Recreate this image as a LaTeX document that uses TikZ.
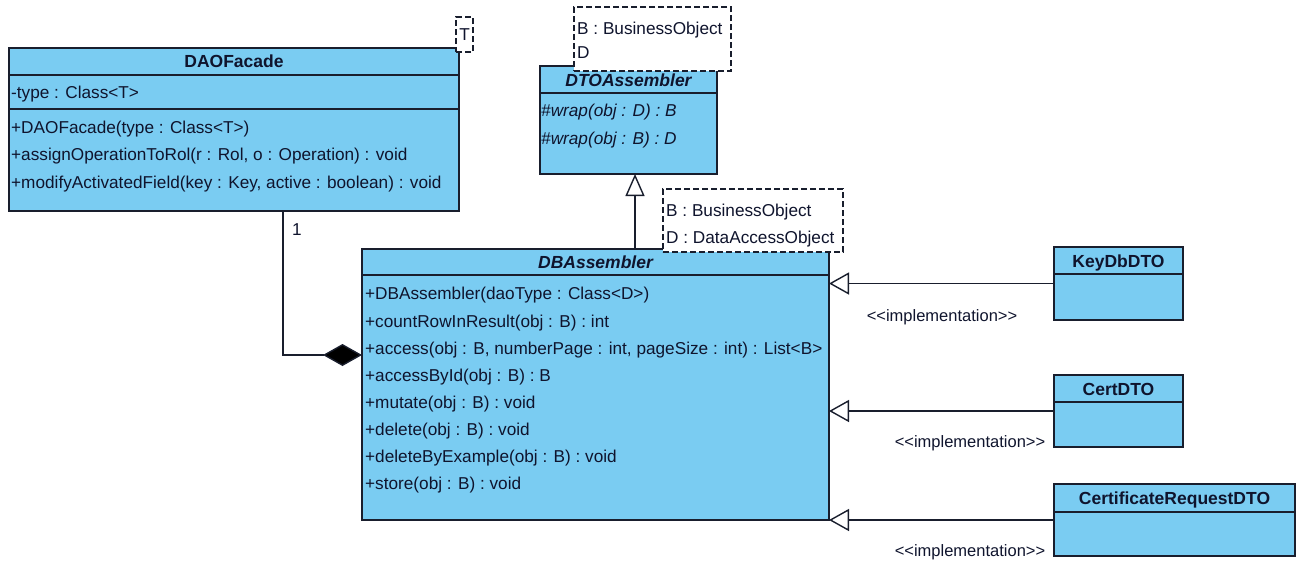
\documentclass[tikz,border=0pt]{standalone}
\usepackage{fontspec}
\setmainfont{Liberation Sans}[Ligatures=TeXOff]
\usetikzlibrary{arrows.meta}
\definecolor{clsfill}{RGB}{122,204,242}
\definecolor{clsline}{RGB}{25,30,45}
\definecolor{txt}{RGB}{15,20,45}
\tikzset{
  box/.style={draw=clsline, line width=1.6pt, fill=clsfill, anchor=north west, inner sep=0pt, outer sep=0pt},
  tmpl/.style={draw=clsline, dash pattern=on 6pt off 3pt, line width=1.2pt, fill=white, anchor=north west, inner sep=0pt, outer sep=0pt},
  sep/.style={draw=clsline, line width=1.6pt},
  lbl/.style={anchor=base west, inner sep=0pt, text=txt, font=\fontsize{17.2}{20}\selectfont},
  ilbl/.style={lbl, font=\fontsize{17.2}{20}\selectfont\itshape},
  ttl/.style={anchor=base, inner sep=0pt, text=txt, font=\fontsize{17.5}{20}\selectfont\bfseries},
  ittl/.style={ttl, font=\fontsize{17.5}{20}\selectfont\bfseries\itshape},
  stereo/.style={anchor=center, inner sep=0pt, text=txt, font=\fontsize{16.5}{20}\selectfont},
  conn/.style={draw=clsline, line width=1.4pt},
  realz/.style={conn, -{Triangle[open, length=20pt, width=22pt, line width=1.4pt]}},
  gener/.style={conn, -{Triangle[open, length=22pt, width=19pt, line width=1.4pt]}},
  compo/.style={conn, -{Diamond[length=39pt, width=22pt, fill=black]}},
}
\begin{document}
\begin{tikzpicture}[x=1pt, y=-1pt]
\useasboundingbox (0,0) rectangle (1299,566);

% ---------- DAOFacade ----------
\node[box, minimum width=450pt, minimum height=163pt] (dao) at (9,48) {};
\draw[sep] ([yshift=-27pt]dao.north west) -- ([yshift=-27pt]dao.north east);
\draw[sep] ([yshift=-61pt]dao.north west) -- ([yshift=-61pt]dao.north east);
\node[ttl] (daot) at (234,67.5) {DAOFacade};
\node[lbl] (dao1) at (11,98) {-type : Class<T>};
\node[lbl] (dao2) at (11,133) {+DAOFacade(type : Class<T>)};
\node[lbl] (dao3) at (11,160) {+assignOperationToRol(r : Rol, o : Operation) : void};
\node[lbl] (dao4) at (11,188) {+modifyActivatedField(key : Key, active : boolean) : void};
\node[tmpl, minimum width=17pt, minimum height=35pt] (daotp) at (456,17) {};
\node[lbl, anchor=base] (daotpt) at (464.5,40) {T};

% ---------- DTOAssembler ----------
\node[box, minimum width=177pt, minimum height=108pt] (dto) at (540,66) {};
\draw[sep] ([yshift=-27pt]dto.north west) -- ([yshift=-27pt]dto.north east);
\node[ittl] (dtot) at (628.5,86) {DTOAssembler};
\node[ilbl] (dto1) at (541,116) {\#wrap(obj : D) : B};
\node[ilbl] (dto2) at (541,144) {\#wrap(obj : B) : D};
\node[tmpl, minimum width=157pt, minimum height=64pt] (dtotp) at (574,7) {};
\node[lbl] (dtotp1) at (577,34) {B : BusinessObject};
\node[lbl] (dtotp2) at (577,58) {D};

% ---------- DBAssembler ----------
\node[box, minimum width=467pt, minimum height=271pt] (db) at (362,249) {};
\draw[sep] ([yshift=-26pt]db.north west) -- ([yshift=-26pt]db.north east);
\node[ittl] (dbt) at (595.5,268) {DBAssembler};
\node[lbl] (db1) at (365,299) {+DBAssembler(daoType : Class<D>)};
\node[lbl] (db2) at (365,327) {+countRowInResult(obj : B) : int};
\node[lbl] (db3) at (365,354) {+access(obj : B, numberPage : int, pageSize : int) : List<B>};
\node[lbl] (db4) at (365,381) {+accessById(obj : B) : B};
\node[lbl] (db5) at (365,408) {+mutate(obj : B) : void};
\node[lbl] (db6) at (365,435) {+delete(obj : B) : void};
\node[lbl] (db7) at (365,462) {+deleteByExample(obj : B) : void};
\node[lbl] (db8) at (365,489) {+store(obj : B) : void};
\node[tmpl, minimum width=180pt, minimum height=63pt] (dbtp) at (663,189) {};
\node[lbl] (dbtp1) at (666,216) {B : BusinessObject};
\node[lbl] (dbtp2) at (666,243) {D : DataAccessObject};

% ---------- DTO classes ----------
\node[box, minimum width=129pt, minimum height=73pt] (key) at (1054,247) {};
\draw[sep] ([yshift=-27pt]key.north west) -- ([yshift=-27pt]key.north east);
\node[ttl] (keyt) at (1118.5,267) {KeyDbDTO};

\node[box, minimum width=129pt, minimum height=72pt] (cert) at (1054,375) {};
\draw[sep] ([yshift=-27pt]cert.north west) -- ([yshift=-27pt]cert.north east);
\node[ttl] (certt) at (1118.5,395) {CertDTO};

\node[box, minimum width=241pt, minimum height=72pt] (creq) at (1054,484) {};
\draw[sep] ([yshift=-28pt]creq.north west) -- ([yshift=-28pt]creq.north east);
\node[ttl] (creqt) at (1174.5,504) {CertificateRequestDTO};

% ---------- connectors ----------
\draw[realz] (key.west) -- (key.west -| db.east);
\draw[realz] (cert.west) -- (cert.west -| db.east);
\draw[realz] (creq.west) -- (creq.west -| db.east);
\node[stereo] (s1) at (942,317) {<<implementation>>};
\node[stereo] (s2) at (970,443) {<<implementation>>};
\node[stereo] (s3) at (970,552) {<<implementation>>};

\coordinate (gfoot) at (635,249);
\draw[gener] (gfoot) -- (gfoot |- dto.south);

\coordinate (cstart) at (283,211);
\coordinate (cend) at (362,355);
\draw[compo] (cstart) |- (cend);
\node[lbl, anchor=center] (mult) at (297,230) {1};
\end{tikzpicture}
\end{document}
